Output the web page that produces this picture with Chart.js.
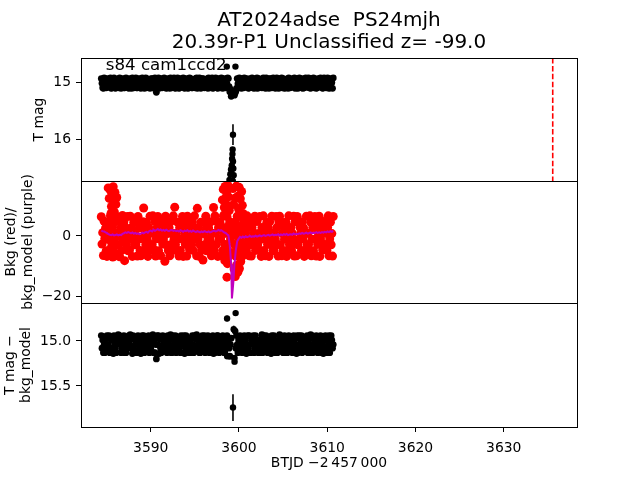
<!DOCTYPE html>
<html>
<head>
<meta charset="utf-8">
<script src="https://cdn.jsdelivr.net/npm/chart.js@4.4.1/dist/chart.umd.min.js"></script>
<style>
  html, body { margin: 0; padding: 0; background: #fff; }
  #fig { position: relative; width: 640px; height: 480px; }
  #fig canvas { position: absolute; left: 0; top: 0; }
</style>
</head>
<body>
<div id="fig">
  <canvas id="lc" width="640" height="480"></canvas>
  <canvas id="bkg" width="640" height="480"></canvas>
  <canvas id="sub" width="640" height="480"></canvas>
</div>
<script>
// ─── Data ───────────────────────────────────────────────────────────────
// photometry cadence, BTJD - 2457000
const btjd = [
  3584.40, 3584.48, 3584.56, 3584.64, 3584.72, 3584.80, 3584.88, 3584.96, 3585.04, 3585.12,
  3585.20, 3585.28, 3585.36, 3585.44, 3585.52, 3585.60, 3585.68, 3585.76, 3585.84, 3585.92,
  3586.00, 3586.08, 3586.16, 3586.24, 3586.32, 3586.40, 3586.48, 3586.56, 3586.64, 3586.72,
  3586.80, 3586.88, 3586.96, 3587.04, 3587.12, 3587.20, 3587.28, 3587.36, 3587.44, 3587.52,
  3587.60, 3587.68, 3587.76, 3587.84, 3587.92, 3588.00, 3588.08, 3588.16, 3588.24, 3588.32,
  3588.40, 3588.48, 3588.56, 3588.64, 3588.72, 3588.80, 3588.88, 3588.96, 3589.04, 3589.12,
  3589.20, 3589.28, 3589.36, 3589.44, 3589.52, 3589.60, 3589.68, 3589.76, 3589.84, 3589.92,
  3590.00, 3590.08, 3590.16, 3590.24, 3590.32, 3590.40, 3590.48, 3590.56, 3590.64, 3590.72,
  3590.80, 3590.88, 3590.96, 3591.04, 3591.12, 3591.20, 3591.28, 3591.36, 3591.44, 3591.52,
  3591.60, 3591.68, 3591.76, 3591.84, 3591.92, 3592.00, 3592.08, 3592.16, 3592.24, 3592.32,
  3592.40, 3592.48, 3592.56, 3592.64, 3592.72, 3592.80, 3592.88, 3592.96, 3593.04, 3593.12,
  3593.20, 3593.28, 3593.36, 3593.44, 3593.52, 3593.60, 3593.68, 3593.76, 3593.84, 3593.92,
  3594.00, 3594.08, 3594.16, 3594.24, 3594.32, 3594.40, 3594.48, 3594.56, 3594.64, 3594.72,
  3594.80, 3594.88, 3594.96, 3595.04, 3595.12, 3595.20, 3595.28, 3595.36, 3595.44, 3595.52,
  3595.60, 3595.68, 3595.76, 3595.84, 3595.92, 3596.00, 3596.08, 3596.16, 3596.24, 3596.32,
  3596.40, 3596.48, 3596.56, 3596.64, 3596.72, 3596.80, 3596.88, 3596.96, 3597.04, 3597.12,
  3597.20, 3597.28, 3597.36, 3597.44, 3597.52, 3597.60, 3597.68, 3597.76, 3597.84, 3597.92,
  3598.00, 3598.08, 3598.16, 3598.24, 3598.32, 3598.40, 3598.48, 3598.56, 3598.64, 3598.72,
  3598.80, 3598.88, 3598.96, 3599.04, 3599.12,
  3599.48, 3599.56, 3599.64, 3599.72, 3599.80, 3599.88, 3599.96, 3600.04, 3600.12, 3600.20,
  3600.28, 3600.36, 3600.44, 3600.52, 3600.60, 3600.68, 3600.76, 3600.84, 3600.92, 3601.00,
  3601.08, 3601.16, 3601.24, 3601.32, 3601.40, 3601.48, 3601.56, 3601.64, 3601.72, 3601.80,
  3601.88, 3601.96, 3602.04, 3602.12, 3602.20, 3602.28, 3602.36, 3602.44, 3602.52, 3602.60,
  3602.68, 3602.76, 3602.84, 3602.92, 3603.00, 3603.08, 3603.16, 3603.24, 3603.32, 3603.40,
  3603.48, 3603.56, 3603.64, 3603.72, 3603.80, 3603.88, 3603.96, 3604.04, 3604.12, 3604.20,
  3604.28, 3604.36, 3604.44, 3604.52, 3604.60, 3604.68, 3604.76, 3604.84, 3604.92, 3605.00,
  3605.08, 3605.16, 3605.24, 3605.32, 3605.40, 3605.48, 3605.56, 3605.64, 3605.72, 3605.80,
  3605.88, 3605.96, 3606.04, 3606.12, 3606.20, 3606.28, 3606.36, 3606.44, 3606.52, 3606.60,
  3606.68, 3606.76, 3606.84, 3606.92, 3607.00, 3607.08, 3607.16, 3607.24, 3607.32, 3607.40,
  3607.48, 3607.56, 3607.64, 3607.72, 3607.80, 3607.88, 3607.96, 3608.04, 3608.12, 3608.20,
  3608.28, 3608.36, 3608.44, 3608.52, 3608.60, 3608.68, 3608.76, 3608.84, 3608.92, 3609.00,
  3609.08, 3609.16, 3609.24, 3609.32, 3609.40, 3609.48, 3609.56, 3609.64, 3609.72, 3609.80,
  3609.88, 3609.96, 3610.04, 3610.12, 3610.20, 3610.28, 3610.36, 3610.44, 3610.52, 3610.60,
  3610.68
];

// T mag (top panel)
const tmag = [
  14.93, 15.01, 15.09, 15.10, 14.92, 15.02, 15.00, 15.09, 14.93, 14.94, 15.08, 15.01,
  15.02, 14.92, 15.10, 15.09, 15.00, 14.93, 14.92, 15.01, 15.10, 15.08, 14.94, 15.00,
  15.01, 15.09, 14.92, 14.93, 15.10, 15.02, 15.00, 14.93, 15.09, 15.09, 15.01, 14.92,
  14.94, 15.02, 15.08, 15.10, 14.93, 15.00, 15.01, 15.10, 14.92, 14.93, 15.09, 15.01,
  15.00, 14.92, 15.09, 15.09, 15.02, 14.94, 14.93, 15.00, 15.10, 15.08, 14.92, 15.01,
  15.02, 15.10, 14.93, 14.92, 15.09, 15.00, 15.01, 14.94, 15.08, 15.10, 15.00, 14.93,
  14.93, 15.01, 15.09, 15.10, 14.92, 15.02, 15.17, 15.09, 14.93, 14.92, 15.10, 15.02,
  15.01, 14.93, 15.09, 15.08, 15.00, 14.92, 14.94, 15.02, 15.10, 15.09, 14.93, 15.01,
  15.00, 15.10, 14.92, 14.93, 15.09, 15.01, 15.02, 14.92, 15.09, 15.10, 15.01, 14.94,
  14.92, 15.00, 15.10, 15.09, 14.93, 15.02, 15.01, 15.08, 14.92, 14.93, 15.10, 15.00,
  15.02, 14.93, 15.09, 15.10, 15.01, 14.92, 14.93, 15.00, 15.09, 15.09, 14.94, 15.01,
  15.01, 15.09, 14.93, 14.92, 15.10, 15.02, 15.00, 14.92, 15.08, 15.10, 15.01, 14.93,
  14.93, 15.02, 15.09, 15.08, 14.94, 15.00, 15.01, 15.10, 14.92, 14.93, 15.09, 15.02,
  15.00, 14.92, 15.10, 15.09, 15.01, 14.93, 14.92, 15.00, 15.09, 15.10, 14.93, 15.01,
  15.02, 15.09, 14.92, 14.93, 15.10, 15.01, 15.00, 14.93, 15.09, 15.08, 15.02, 14.92,
  14.93, 15.07, 15.16, 15.12, 15.24,
  15.22, 15.18, 15.15, 15.10, 14.93, 15.02, 15.09, 14.92, 15.01, 14.93, 15.10, 15.00,
  15.01, 15.09, 14.92, 15.08, 14.94, 15.02, 14.93, 15.00, 15.10, 15.09, 15.01, 14.93,
  15.02, 14.92, 15.09, 14.93, 15.10, 15.01, 15.00, 15.09, 14.92, 15.10, 14.93, 15.02,
  14.94, 15.00, 15.08, 15.09, 15.02, 14.92, 15.01, 14.93, 15.10, 14.92, 15.09, 15.01,
  15.00, 15.10, 14.93, 14.93, 15.01, 15.09, 15.08, 14.92, 15.02, 15.01, 15.10, 14.94,
  14.92, 15.09, 15.00, 15.10, 15.02, 14.93, 15.01, 14.92, 15.09, 14.93, 15.00, 15.10,
  15.09, 14.94, 15.01, 15.02, 15.10, 14.92, 14.93, 15.09, 15.00, 15.08, 15.01, 14.93,
  15.01, 14.92, 15.10, 14.93, 15.02, 15.09, 15.10, 15.00, 14.92, 15.00, 14.94, 15.09,
  14.93, 15.10, 15.01, 15.09, 15.00, 14.92, 15.02, 14.93, 15.08, 14.92, 15.09, 15.01,
  15.10, 15.01, 14.93, 15.00, 14.92, 15.09, 14.94, 15.02, 15.10, 15.09, 14.93, 15.00,
  15.02, 15.08, 14.92, 14.93, 15.01, 15.10, 15.09, 14.92, 15.00, 15.01, 15.09, 14.93,
  14.92, 15.02, 15.10, 15.09, 14.93, 15.01, 15.00, 15.10, 14.92
];

// outlying T mag points with their error bars
const tmagOutT   = [3598.62, 3599.60, 3599.32, 3599.28, 3599.26, 3599.22, 3599.32, 3599.18, 3599.10,
                    3599.36, 3599.02, 3599.40, 3598.92, 3599.30, 3599.45, 3598.86, 3599.15];
const tmagOut    = [14.72, 14.72, 15.91, 16.17, 16.25, 16.33, 16.38, 16.45, 16.52,
                    16.50, 16.60, 16.62, 16.70, 16.72, 16.78, 16.82, 16.88];
const tmagOutErr = [0.03, 0.03, 0.18, 0.04, 0.05, 0.06, 0.06, 0.07, 0.08,
                    0.08, 0.10, 0.10, 0.12, 0.12, 0.14, 0.15, 0.16];

// background flux (red)
const bkg = [
  6.4, -2.7, 1.1, -6.5, 4.9, -0.8, 2.6, -4.9,
  -6.8, 3.0, -1.2, 4.5, -4.6, 6.7, 0.7, -3.1,
  2.9, -4.7, 6.5, -0.9, -6.6, 4.8, -2.8, 1.0,
  -2.9, 0.8, -6.9, 4.6, 2.7, -4.8, 6.8, -1.1,
  4.7, -8.2, 2.9, -2.7, 0.9, 6.5, -4.9, -1.0,
  -4.7, 6.6, -1.0, 2.8, -6.8, 0.9, 4.6, -2.9,
  0.9, -2.9, 4.8, -6.7, 6.5, -1.0, 2.8, -4.8,
  -6.6, 2.7, -0.9, 4.7, 9.3, -4.8, 0.8, -2.9,
  4.6, -1.1, -6.8, 2.9, -2.8, 6.6, -4.7, 1.0,
  -2.8, 6.7, 0.9, -4.6, 4.8, -6.7, -0.9, 2.7,
  6.5, -4.9, 2.8, -1.0, -6.5, 0.9, 4.7, -2.7,
  -1.0, 4.6, -8.4, 6.6, -2.9, 2.7, 0.8, -4.8,
  2.8, -6.6, 4.7, -2.8, 0.9, -4.7, 6.7, -1.1,
  9.6, -2.9, 0.9, -4.9, 4.6, -0.9, -6.7, 2.8,
  -4.8, 2.9, -1.0, 6.5, -6.8, 4.7, 0.8, -2.8,
  0.9, -6.7, 6.6, -2.7, 2.8, -4.6, -1.0, 4.8,
  -2.9, 4.7, -4.8, 0.9, 6.7, -1.0, 2.6, -6.6,
  9.2, -0.9, 2.8, -6.8, -2.9, 4.6, -4.7, 0.9,
  -8.0, 0.8, 4.8, -2.8, 6.6, -4.9, 2.9, -1.0,
  2.7, -4.7, -1.1, 4.7, -6.6, 0.9, -2.9, 9.5,
  -4.8, 6.7, 0.9, -2.8, 4.7, -6.8, 2.8, -1.0,
  4.6, -1.0, -6.6, 2.9, -4.9, 6.6, 0.8, -2.8,
  -2.9, 2.8, 6.5, -4.8, 0.9, -6.7, 4.7, -1.0,
  2.7,
  -2.8, 4.7, -6.7, 0.9, 6.6, -4.8, 2.8, -1.0,
  6.5, -1.0, 2.9, -6.8, -2.8, 4.6, 0.8, -4.7,
  0.9, -4.9, 6.7, 2.7, -1.1, -6.6, 4.8, -2.9,
  -6.7, 2.8, -2.7, 4.7, 0.9, 6.6, -4.8, -0.9,
  4.8, -2.9, 0.8, -4.7, 6.5, -1.0, -6.8, 2.8,
  -1.0, 6.7, -4.8, 2.9, -6.6, 0.9, 4.6, -2.8,
  2.7, -6.8, 4.7, -1.0, -2.9, 6.6, 0.9, -4.9,
  -4.7, 0.9, -1.0, 6.5, 2.8, -2.8, -6.7, 4.7,
  6.6, -2.9, 4.8, -6.6, 0.8, -4.8, 2.9, -1.1,
  -0.9, 4.6, -6.8, 2.7, -4.7, 6.7, -2.8, 0.9,
  2.8, -4.9, 0.9, -1.0, 6.6, -6.7, 4.7, -2.7,
  -6.6, 6.5, -2.9, 4.8, -1.0, 2.8, 0.9, -4.8,
  4.7, -1.0, 2.7, -6.8, -4.8, 0.8, 6.6, -2.9,
  0.9, -2.8, -4.7, 6.7, 4.6, -6.6, -1.1, 2.8,
  -4.9, 2.9, 6.5, -1.0, -6.7, 4.7, -2.8, 0.9,
  6.6, -6.8, -1.0, 2.7, 0.9, -4.7, 4.8, -2.9,
  -2.8, 0.9, 4.7, -4.8, 2.8, 6.7, -6.6, -1.0,
  4.6, -2.9, 0.8, -6.7, 6.5
];

// extra background samples in the three spiky stretches
const bkgSpikeT = [
  3585.18, 3585.30, 3585.42, 3585.55, 3585.62, 3585.75, 3585.85, 3585.95, 3586.05, 3586.15,
  3585.35, 3585.70, 3585.98, 3585.50, 3585.88, 3586.10,
  3598.12, 3598.22, 3598.34, 3598.42, 3598.52, 3598.60, 3598.68, 3598.75, 3598.82, 3598.90,
  3598.40, 3598.70, 3598.64, 3598.30, 3598.85, 3598.95,
  3599.32, 3599.40, 3599.45, 3599.55, 3599.58, 3599.70, 3599.72, 3599.85, 3599.88, 3599.95,
  3600.02, 3600.05, 3600.15, 3600.20, 3600.30, 3600.38, 3600.45, 3599.62, 3599.78, 3599.98,
  3600.10, 3599.50, 3599.35
];
const bkgSpikeV = [
  16.0, 12.5, 15.2, 9.8, 13.6, 16.4, 11.2, 14.5, 10.5, 12.8,
  -6.5, -7.0, -5.8, 7.5, 8.0, 6.5,
  12.0, 15.5, 9.5, 16.5, 12.8, 14.6, 10.2, 16.8, 13.0, 8.5,
  -8.2, -9.2, -13.7, 7.0, -6.0, 4.0,
  15.8, 10.5, -11.0, 12.6, -13.5, 16.6, -9.8, 13.2, -12.0, 9.0,
  16.2, -10.8, 12.4, -8.5, 14.8, 10.2, 7.5, 4.0, -4.5, 2.5,
  -3.5, 0.5, -5.5
];

// background model (purple), evaluated on a coarser cadence
const modelT = [
  3584.40, 3584.56, 3584.72, 3584.88, 3585.04, 3585.20, 3585.36, 3585.52, 3585.68, 3585.84,
  3586.00, 3586.16, 3586.32, 3586.48, 3586.64, 3586.80, 3586.96, 3587.12, 3587.28, 3587.44,
  3587.60, 3587.76, 3587.92, 3588.08, 3588.24, 3588.40, 3588.56, 3588.72, 3588.88, 3589.04,
  3589.20, 3589.36, 3589.52, 3589.68, 3589.84, 3590.00, 3590.16, 3590.32, 3590.48, 3590.64,
  3590.80, 3590.96, 3591.12, 3591.28, 3591.44, 3591.60, 3591.76, 3591.92, 3592.08, 3592.24,
  3592.40, 3592.56, 3592.72, 3592.88, 3593.04, 3593.20, 3593.36, 3593.52, 3593.68, 3593.84,
  3594.00, 3594.16, 3594.32, 3594.48, 3594.64, 3594.80, 3594.96, 3595.12, 3595.28, 3595.44,
  3595.60, 3595.76, 3595.92, 3596.08, 3596.24, 3596.40, 3596.56, 3596.72, 3596.88, 3597.04,
  3597.20, 3597.36, 3597.52, 3597.68, 3597.84, 3598.00, 3598.16, 3598.32, 3598.48, 3598.64,
  3598.80, 3598.96, 3599.12, 3599.20, 3599.30, 3599.38,
  3599.48, 3599.64, 3599.80, 3599.96, 3600.12, 3600.28, 3600.44, 3600.60, 3600.76, 3600.92,
  3601.08, 3601.24, 3601.40, 3601.56, 3601.72, 3601.88, 3602.04, 3602.20, 3602.36, 3602.52,
  3602.68, 3602.84, 3603.00, 3603.16, 3603.32, 3603.48, 3603.64, 3603.80, 3603.96, 3604.12,
  3604.28, 3604.44, 3604.60, 3604.76, 3604.92, 3605.08, 3605.24, 3605.40, 3605.56, 3605.72,
  3605.88, 3606.04, 3606.20, 3606.36, 3606.52, 3606.68, 3606.84, 3607.00, 3607.16, 3607.32,
  3607.48, 3607.64, 3607.80, 3607.96, 3608.12, 3608.28, 3608.44, 3608.60, 3608.76, 3608.92,
  3609.08, 3609.24, 3609.40, 3609.56, 3609.72, 3609.88, 3610.04, 3610.20, 3610.36, 3610.52,
  3610.68
];
const bkgModel = [
  1.8, 1.6, 1.5, 1.2, 1.0, 0.6, 0.4, 0.3, 0.5, 0.2,
  0.3, 0.5, 0.2, 0.4, 0.3, 0.7, 0.9, 1.2, 1.0, 1.3,
  1.1, 0.9, 1.2, 0.8, 1.0, 0.7, 0.9, 0.6, 0.8, 1.1,
  0.9, 1.2, 1.4, 1.1, 1.6, 1.8, 1.5, 2.1, 1.7, 2.0,
  2.3, 1.9, 2.2, 1.8, 2.0, 1.7, 2.1, 1.8, 1.6, 1.9,
  2.0, 1.7, 1.9, 1.6, 1.8, 1.5, 1.9, 1.7, 1.4, 1.8,
  1.6, 1.9, 1.5, 1.7, 1.4, 1.8, 1.5, 1.3, 1.6, 1.4,
  1.2, 1.5, 1.3, 1.6, 1.4, 1.3, 1.5, 1.2, 1.4, 1.6,
  1.8, 1.5, 1.7, 2.0, 1.8, 1.9, 1.6, 1.2, 1.0, 0.6,
  0.2, -3.2, -9.5, -20.8, -17.5, -14.7,
  -9.5, -4.8, -1.8, -0.9, -0.3, -0.6, -0.2, -0.5, -0.1, -0.4,
  -0.2, 0.0, -0.3, -0.1, -0.2, 0.1, -0.2, 0.0, 0.2, -0.1,
  0.1, 0.3, 0.0, 0.2, 0.4, 0.1, 0.3, 0.5, 0.2, 0.4,
  0.3, 0.6, 0.2, 0.5, 0.3, 0.6, 0.4, 0.7, 0.3, 0.5,
  0.6, 0.4, 0.8, 0.5, 0.7, 0.6, 0.9, 0.7, 1.0, 0.8,
  0.9, 1.1, 0.8, 1.0, 1.2, 0.9, 1.1, 1.0, 1.3, 1.0,
  1.2, 1.0, 1.3, 1.1, 1.4, 1.2, 1.5, 1.3, 1.6, 1.4,
  1.7
];

// T mag - bkg_model (bottom panel)
const tmagSub = [
  14.94, 15.08, 14.99, 15.13, 15.04, 15.13, 14.98, 15.04, 14.94, 15.08,
  15.04, 14.94, 15.13, 15.08, 14.99, 14.98, 15.08, 15.14, 14.94, 15.03,
  15.08, 15.13, 15.04, 14.99, 14.93, 15.03, 14.94, 14.98, 15.13, 15.09,
  14.99, 15.04, 14.94, 15.13, 15.08, 15.13, 15.08, 14.99, 15.04, 14.94,
  15.04, 14.93, 15.08, 14.98, 15.14, 14.94, 15.09, 15.13, 15.04, 14.99,
  15.13, 14.99, 14.94, 15.04, 15.08, 15.03, 15.14, 15.08, 14.94, 14.98,
  14.94, 15.13, 15.04, 15.08, 14.99, 15.08, 14.98, 14.94, 15.13, 15.04,
  15.08, 15.04, 14.99, 14.93, 15.13, 14.99, 15.13, 15.04, 15.20, 14.94,
  15.04, 14.94, 15.14, 14.98, 15.08, 15.13, 15.08, 14.94, 15.03, 14.99,
  14.98, 15.08, 15.04, 15.13, 14.94, 15.04, 14.99, 15.08, 14.93, 15.13,
  15.13, 14.94, 14.99, 15.04, 15.08, 14.94, 15.13, 15.08, 14.98, 15.04,
  15.08, 15.03, 15.13, 14.94, 14.99, 14.99, 15.04, 14.94, 15.14, 15.08,
  14.94, 14.99, 15.08, 15.04, 15.13, 15.08, 15.13, 14.98, 15.04, 14.94,
  15.04, 15.13, 14.94, 15.08, 14.98, 14.93, 15.08, 15.04, 14.99, 15.13,
  15.13, 15.08, 14.99, 14.94, 15.04, 15.04, 14.94, 15.13, 15.09, 14.98,
  14.99, 14.94, 15.04, 15.13, 15.08, 15.08, 15.04, 14.98, 14.94, 15.14,
  15.04, 15.13, 15.08, 14.99, 14.94, 14.94, 15.09, 15.13, 15.04, 14.99,
  15.08, 14.98, 14.94, 15.04, 15.13, 15.13, 14.99, 15.08, 14.94, 15.04,
  14.99, 15.08, 15.17, 15.04, 14.97,
  15.19, 14.89, 15.08, 14.94, 15.04, 15.13, 14.99, 15.04, 14.94, 15.08,
  15.04, 15.13, 14.98, 15.08, 14.94, 14.99, 15.08, 15.14, 15.04, 14.94,
  15.08, 14.94, 15.04, 15.13, 14.99, 15.03, 14.98, 14.94, 15.13, 15.09,
  14.94, 15.04, 15.08, 14.99, 15.13, 15.08, 15.13, 15.04, 14.98, 14.93,
  15.13, 14.99, 14.94, 15.08, 15.04, 14.94, 15.08, 15.13, 15.04, 14.99,
  14.98, 15.08, 15.14, 14.94, 15.03, 15.04, 14.94, 14.99, 15.13, 15.08,
  15.08, 15.13, 15.04, 14.99, 14.93, 14.94, 15.04, 15.08, 14.98, 15.13,
  15.04, 14.94, 14.99, 15.13, 15.08, 15.13, 15.08, 14.94, 15.03, 14.99,
  14.99, 15.04, 15.13, 15.08, 14.94, 15.08, 14.98, 15.04, 15.14, 14.94,
  15.13, 15.08, 14.94, 15.04, 14.99, 14.94, 15.13, 14.99, 15.08, 15.04,
  15.04, 14.98, 15.08, 14.94, 15.13, 14.99, 15.04, 15.13, 14.93, 15.08,
  14.94, 15.13, 15.04, 14.99, 15.08, 15.08, 14.94, 15.04, 15.13, 14.98,
  15.08, 14.99, 14.94, 15.13, 15.04, 15.04, 15.14, 14.98, 15.08, 14.94,
  14.99, 15.08, 15.13, 15.04, 14.94, 15.13, 15.04, 14.94, 14.99, 15.08,
  15.04
];
const subOutT   = [3598.65, 3599.62, 3598.66, 3599.50, 3599.32, 3599.40];
const subOut    = [14.75, 14.69, 15.17, 15.23, 15.74, 14.87];
const subOutErr = [0.03, 0.03, 0.03, 0.03, 0.148, 0.04];

const EVENT_T = 3635.55;   // red dashed marker
const SECTOR_LABEL = "s84 cam1ccd2";

// ─── Axis ranges and panel placement ────────────────────────────────────
const X_MIN = 3582.1, X_MAX = 3638.3;
const TOP_MIN = 14.57, TOP_MAX = 16.72;
const MID_MIN = -22.3, MID_MAX = 18.3;
const BOT_MIN = 14.578, BOT_MAX = 15.956;

const W = 640, H = 480;
const AXIS_W = 81;            // left margin up to the spine
const PAD_RIGHT = W - 577;
const P1_BOTTOM = 181, P2_BOTTOM = 303, P3_BOTTOM = 427;

// ─── Shared config ──────────────────────────────────────────────────────
Chart.defaults.font.family = "DejaVu Sans";
const FONT = { family: "DejaVu Sans", size: 13.9 };
const DOT_K = 3.4;   // black marker radius
const DOT_R = 4.5;   // red marker radius

const pts = (xs, ys) => xs.map((x, i) => ({ x, y: ys[i] }));
const ptsErr = (xs, ys, es) => xs.map((x, i) => ({ x, y: ys[i], err: es[i] }));
const minus = v => (v < 0 ? "\u2212" + (-v) : String(v));

function yAxis(min, max, step, reverse, title, titlePad, fmt) {
  return {
    type: "linear", min, max, reverse,
    afterFit: s => { s.width = AXIS_W; },
    ticks: { stepSize: step, includeBounds: false, color: "#000", font: FONT, padding: 5, callback: fmt },
    grid: { drawOnChartArea: false, drawTicks: true, tickLength: 5, color: "#000" },
    border: { display: false },
    title: { display: true, text: title, color: "#000", font: { ...FONT, lineHeight: 1.2 },
             padding: { top: titlePad, bottom: 0 } },
  };
}
const hiddenX = { type: "linear", min: X_MIN, max: X_MAX, display: false };

// panel frame
const frame = {
  id: "frame",
  afterDraw(chart) {
    const { ctx, chartArea: a } = chart;
    ctx.save();
    ctx.strokeStyle = "#000";
    ctx.lineWidth = 1;
    ctx.strokeRect(Math.round(a.left) + 0.5, Math.round(a.top) + 0.5,
                   Math.round(a.right - a.left), Math.round(a.bottom - a.top));
    ctx.restore();
  },
};

// vertical error bars for datasets flagged withErr
const errorBars = {
  id: "errorBars",
  afterDatasetsDraw(chart) {
    const { ctx, chartArea: a, scales: { x, y } } = chart;
    ctx.save();
    ctx.beginPath();
    ctx.rect(a.left, a.top, a.right - a.left, a.bottom - a.top);
    ctx.clip();
    ctx.strokeStyle = "#000";
    ctx.lineWidth = 1.6;
    chart.data.datasets.forEach(ds => {
      if (!ds.withErr) return;
      ds.data.forEach(p => {
        const px = x.getPixelForValue(p.x);
        ctx.beginPath();
        ctx.moveTo(px, y.getPixelForValue(p.y - p.err));
        ctx.lineTo(px, y.getPixelForValue(p.y + p.err));
        ctx.stroke();
      });
    });
    ctx.restore();
  },
};

// red dashed line + sector label, top panel only
const topExtras = {
  id: "topExtras",
  afterDatasetsDraw(chart) {
    const { ctx, chartArea: a, scales: { x } } = chart;
    const px = x.getPixelForValue(EVENT_T);
    ctx.save();
    ctx.strokeStyle = "#ff0000";
    ctx.lineWidth = 1.6;
    ctx.setLineDash([5.5, 2.4]);
    ctx.beginPath();
    ctx.moveTo(px, a.top);
    ctx.lineTo(px, a.bottom);
    ctx.stroke();
    ctx.setLineDash([]);
    ctx.fillStyle = "#000";
    ctx.font = '16.67px "DejaVu Sans"';
    ctx.textBaseline = "alphabetic";
    ctx.fillText(SECTOR_LABEL, a.left + 0.05 * (a.right - a.left), a.top + 0.1 * (a.bottom - a.top));
    ctx.restore();
  },
};

const base = { responsive: false, animation: false, events: [] };

// ─── Top: T mag ─────────────────────────────────────────────────────────
new Chart(document.getElementById("lc"), {
  type: "scatter",
  data: {
    datasets: [
      { data: ptsErr(tmagOutT, tmagOut, tmagOutErr), withErr: true,
        pointRadius: 3.2, pointBorderWidth: 0, pointBackgroundColor: "#000" },
      { data: pts(btjd, tmag),
        pointRadius: DOT_K, pointBorderWidth: 0, pointBackgroundColor: "#000" },
    ],
  },
  options: {
    ...base,
    layout: { autoPadding: false, padding: { top: 0, left: 0, right: PAD_RIGHT, bottom: H - P1_BOTTOM } },
    plugins: {
      legend: { display: false },
      tooltip: { enabled: false },
      title: {
        display: true, fullSize: false, color: "#000",
        text: ["AT2024adse  PS24mjh", "20.39r-P1 Unclassified z= -99.0"],
        font: { family: "DejaVu Sans", size: 20, weight: "normal", lineHeight: 1.1 },
        padding: { top: 9.7, bottom: 4.3 },
      },
    },
    scales: {
      x: hiddenX,
      y: yAxis(TOP_MIN, TOP_MAX, 1, true, "T mag", 31.2, v => String(v)),
    },
  },
  plugins: [errorBars, topExtras, frame],
});

// ─── Middle: background and model ───────────────────────────────────────
new Chart(document.getElementById("bkg"), {
  type: "scatter",
  data: {
    datasets: [
      { data: pts(modelT, bkgModel), showLine: true, borderColor: "#bf00bf", borderWidth: 2,
        pointRadius: 0, tension: 0 },
      { data: pts(btjd, bkg).concat(pts(bkgSpikeT, bkgSpikeV)),
        pointRadius: DOT_R, pointBorderWidth: 0, pointBackgroundColor: "#ff0000" },
    ],
  },
  options: {
    ...base,
    layout: { autoPadding: false, padding: { top: P1_BOTTOM, left: 0, right: PAD_RIGHT, bottom: H - P2_BOTTOM } },
    plugins: { legend: { display: false }, tooltip: { enabled: false } },
    scales: {
      x: hiddenX,
      y: yAxis(MID_MIN, MID_MAX, 20, false, ["Bkg (red)/", "bkg_model (purple)"], 3.2, minus),
    },
  },
  plugins: [frame],
});

// ─── Bottom: T mag - bkg_model ──────────────────────────────────────────
new Chart(document.getElementById("sub"), {
  type: "scatter",
  data: {
    datasets: [
      { data: ptsErr(subOutT, subOut, subOutErr), withErr: true,
        pointRadius: 3.2, pointBorderWidth: 0, pointBackgroundColor: "#000" },
      { data: pts(btjd, tmagSub),
        pointRadius: DOT_K, pointBorderWidth: 0, pointBackgroundColor: "#000" },
    ],
  },
  options: {
    ...base,
    layout: { autoPadding: false, padding: { top: P2_BOTTOM, left: 0, right: PAD_RIGHT, bottom: 0 } },
    plugins: { legend: { display: false }, tooltip: { enabled: false } },
    scales: {
      x: {
        type: "linear", min: X_MIN, max: X_MAX,
        afterFit: s => { s.height = H - P3_BOTTOM; },
        ticks: { stepSize: 10, includeBounds: false, color: "#000", font: FONT, padding: 8,
                 maxRotation: 0, autoSkip: false, callback: v => String(v) },
        grid: { drawOnChartArea: false, drawTicks: true, tickLength: 5, color: "#000" },
        border: { display: false },
        title: { display: true, text: "BTJD \u22122\u2009457\u2009000", color: "#000",
                 font: { ...FONT, lineHeight: 1.2 }, padding: { top: 0, bottom: 8.3 } },
      },
      y: yAxis(BOT_MIN, BOT_MAX, 0.5, true, ["T mag \u2212", "bkg_model"], 1.7, v => v.toFixed(1)),
    },
  },
  plugins: [errorBars, frame],
});
</script>
</body>
</html>
